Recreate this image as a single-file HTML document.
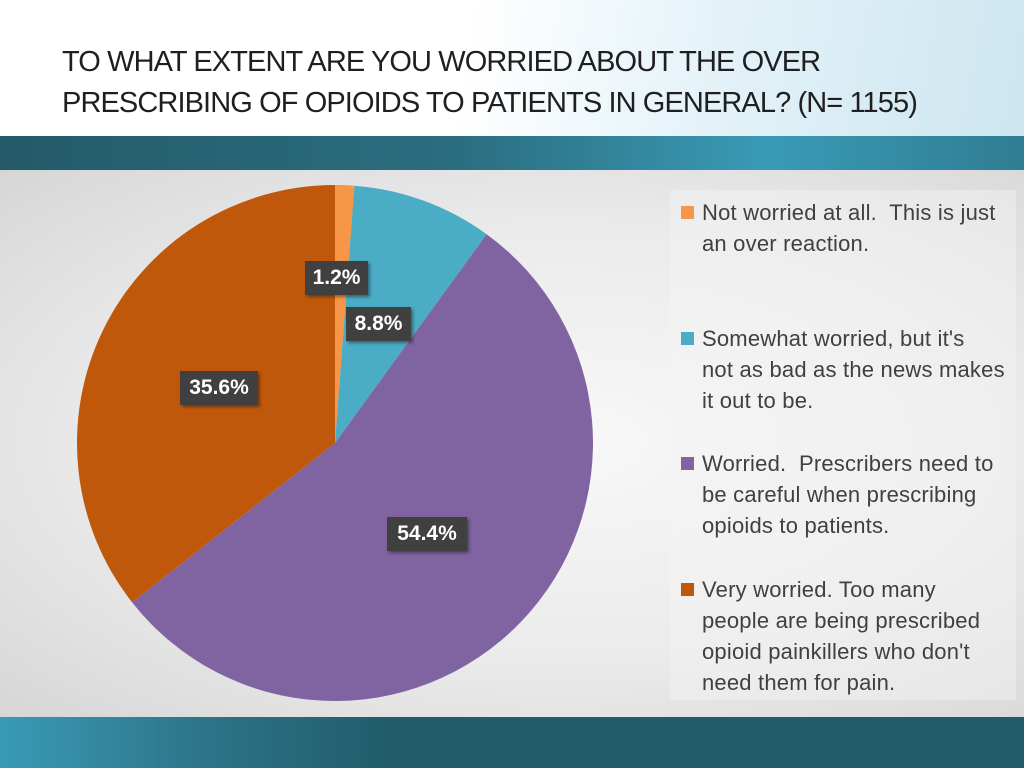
<!DOCTYPE html>
<html><head><meta charset="utf-8"><style>
body{margin:0;width:1024px;height:768px;overflow:hidden;position:relative;font-family:"Liberation Sans",sans-serif;background:#fff}
#hdr{position:absolute;left:0;top:0;width:1024px;height:136px;background:linear-gradient(100deg,#fff 0%,#fff 45%,#e3f2f8 70%,#cde6f0 100%)}
#title{position:absolute;left:62px;top:42px;font-size:29px;line-height:41px;color:#1f1f1f;letter-spacing:-0.9px}
#band1{position:absolute;left:0;top:136px;width:1024px;height:34px;background:linear-gradient(90deg,#245a68 0%,#2b6e80 45%,#3a9ab6 75%,#2f7d93 100%)}
#content{position:absolute;left:0;top:170px;width:1024px;height:547px;background:radial-gradient(ellipse at 55% 50%,#f8f8f8 0%,#ebebeb 55%,#d6d6d6 100%)}
#band2{position:absolute;left:0;top:717px;width:1024px;height:51px;background:linear-gradient(90deg,#3a9ab6 0%,#2c7488 20%,#225c6a 38%,#225c6a 100%)}
#legend{position:absolute;left:670px;top:190px;width:346px;height:510px;background:rgba(245,245,245,0.45)}
.li{position:absolute;left:702px;font-size:22px;line-height:31px;color:#404040;letter-spacing:0.2px;white-space:nowrap}
.sw{position:absolute;left:-21px;top:9px;width:13px;height:13px}
.lbl{position:absolute;background:#404040;color:#fff;font-weight:bold;font-size:21px;height:34px;line-height:34px;text-align:center;box-shadow:2px 2px 3px rgba(0,0,0,.4)}
</style></head><body>
<div id="hdr"></div>
<div id="title">TO WHAT EXTENT ARE YOU WORRIED ABOUT THE OVER<br>PRESCRIBING OF OPIOIDS TO PATIENTS IN GENERAL? (N= 1155)</div>
<div id="band1"></div>
<div id="content"></div>
<div id="band2"></div>
<div id="legend"></div>
<svg id="pie" width="1024" height="768" style="position:absolute;left:0;top:0"></svg>
<div class="li" style="top:197px"><span class="sw" style="background:#f79646"></span>Not worried at all.&nbsp; This is just<br>an over reaction.</div>
<div class="li" style="top:323px"><span class="sw" style="background:#4bacc6"></span>Somewhat worried, but it's<br>not as bad as the news makes<br>it out to be.</div>
<div class="li" style="top:448px"><span class="sw" style="background:#8064a2"></span>Worried.&nbsp; Prescribers need to<br>be careful when prescribing<br>opioids to patients.</div>
<div class="li" style="top:574px"><span class="sw" style="background:#c0580c"></span>Very worried. Too many<br>people are being prescribed<br>opioid painkillers who don't<br>need them for pain.</div>
<div class="lbl" style="left:305px;top:261px;width:63px">1.2%</div>
<div class="lbl" style="left:346px;top:307px;width:65px">8.8%</div>
<div class="lbl" style="left:180px;top:371px;width:78px">35.6%</div>
<div class="lbl" style="left:387px;top:517px;width:80px">54.4%</div>
<script>
const categories=["Not worried at all","Somewhat worried","Worried","Very worried"];
const values=[1.2,8.8,54.4,35.6];
const colors=["#f79646","#4bacc6","#8064a2","#c0580c"];
const svg=document.getElementById('pie');
const cx=335,cy=443,r=258;
const total=values.reduce((a,b)=>a+b,0);
let a0=0;
values.forEach((v,i)=>{
  const a1=a0+v/total*2*Math.PI;
  const x0=cx+r*Math.sin(a0),y0=cy-r*Math.cos(a0),x1=cx+r*Math.sin(a1),y1=cy-r*Math.cos(a1);
  const p=document.createElementNS('http://www.w3.org/2000/svg','path');
  p.setAttribute('d',`M${cx},${cy}L${x0},${y0}A${r},${r} 0 ${a1-a0>Math.PI?1:0} 1 ${x1},${y1}Z`);
  p.setAttribute('fill',colors[i]);
  
  
  svg.appendChild(p);
  a0=a1;
});
</script>
</body></html>
